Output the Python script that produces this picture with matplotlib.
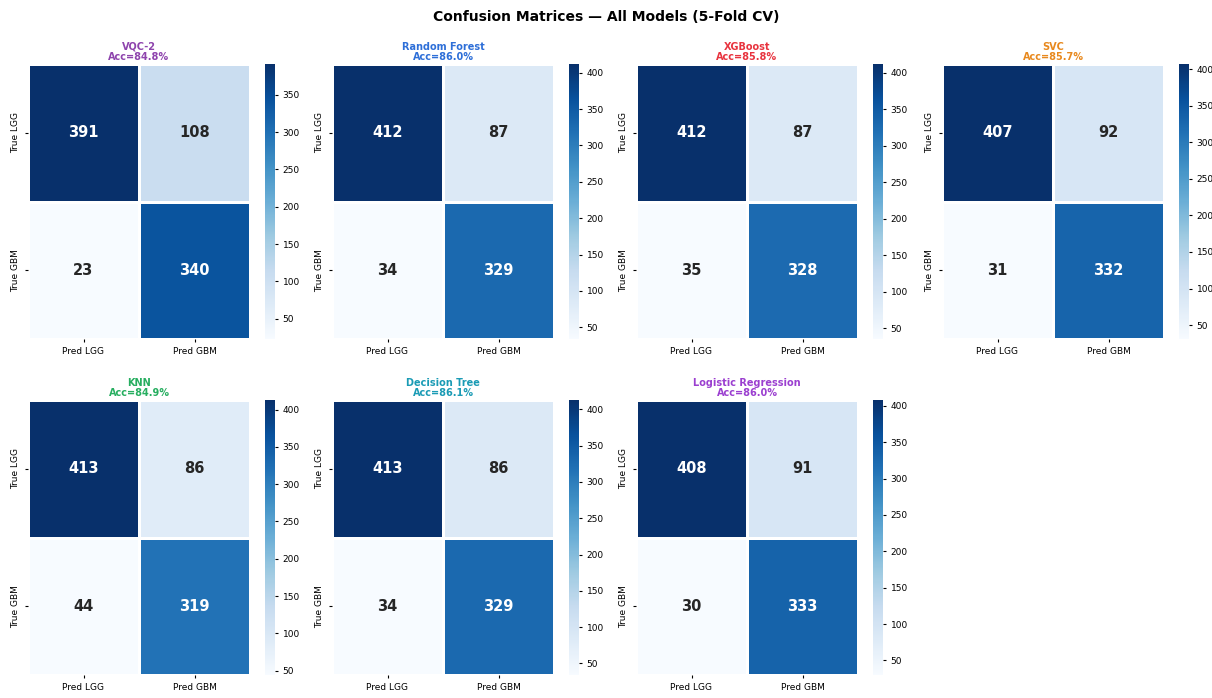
import numpy as np
import matplotlib
matplotlib.use("Agg")
import matplotlib.pyplot as plt
import seaborn as sns

models = ["VQC-2", "Random Forest", "XGBoost", "SVC", "KNN", "Decision Tree", "Logistic Regression"]
accs = [84.8, 86.0, 85.8, 85.7, 84.9, 86.1, 86.0]
title_colors = ["#8e44ad", "#2e6fd8", "#e8343f", "#e8891e", "#27ae60", "#1a9bb5", "#9b3fd0"]
# rows: true LGG / true GBM, cols: pred LGG / pred GBM
cms = [
    [[391, 108], [23, 340]],
    [[412, 87], [34, 329]],
    [[412, 87], [35, 328]],
    [[407, 92], [31, 332]],
    [[413, 86], [44, 319]],
    [[413, 86], [34, 329]],
    [[408, 91], [30, 333]],
]
xlabels = ["Pred LGG", "Pred GBM"]
ylabels = ["True LGG", "True GBM"]

W, H = 1212, 698
fig = plt.figure(figsize=(W / 100, H / 100), dpi=100)

# panel placement in pixels
col_x = [28, 332, 636, 942]
row_y = [64, 400]
hw, hh = 222, 275

for i in range(len(models)):
    r, c = divmod(i, 4)
    x0, y0 = col_x[c], row_y[r]
    ax = fig.add_axes([x0 / W, 1 - (y0 + hh) / H, hw / W, hh / H])
    cax = fig.add_axes([(x0 + hw + 15) / W, 1 - (y0 + hh) / H, 10 / W, hh / H])
    cm = np.array(cms[i])
    sns.heatmap(cm, annot=True, fmt="d", cmap="Blues", ax=ax, cbar_ax=cax,
                linewidths=1.0, linecolor="white",
                xticklabels=xlabels, yticklabels=ylabels,
                annot_kws={"size": 10.5, "weight": "bold"})
    ax.set_title(f"{models[i]}\nAcc={accs[i]:.1f}%", fontsize=7,
                 fontweight="bold", color=title_colors[i], pad=3,
                 linespacing=1.0)
    ax.tick_params(labelsize=6.5, length=2)
    ax.set_yticklabels(ylabels, rotation=90, va="center", fontsize=6.5)
    cax.tick_params(labelsize=6.5, length=2)
    for s in cax.spines.values():
        s.set_visible(False)

fig.suptitle("Confusion Matrices \u2014 All Models (5-Fold CV)",
             fontsize=10, fontweight="bold", y=0.985)
fig.savefig("out.png", dpi=100, facecolor="white")
